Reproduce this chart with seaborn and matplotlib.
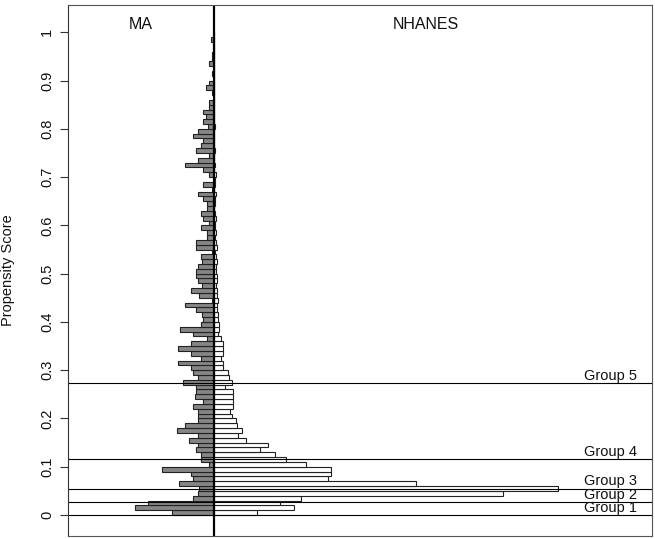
import numpy as np
import pandas as pd
import matplotlib
matplotlib.use("Agg")
import matplotlib.pyplot as plt
import seaborn as sns

# propensity-score bins (width 0.01, from 0 to 1)
bin_edges = [round(i * 0.01, 2) for i in range(101)]

# bar lengths (counts) per bin, bottom to top
ma_counts = [42, 79, 66, 21, 16, 15, 35, 21, 23, 52,
             5, 13, 13, 18, 16, 25, 16, 37, 29, 16,
             16, 16, 21, 11, 19, 18, 18, 31, 16, 21,
             23, 36, 13, 23, 36, 23, 7, 21, 34, 13,
             11, 12, 18, 29, 2, 15, 23, 12, 16, 18,
             18, 16, 12, 13, 2, 18, 18, 7, 7, 13,
             5, 11, 13, 7, 7, 11, 16, 2, 11, 0,
             5, 11, 29, 16, 5, 18, 13, 11, 21, 16,
             6, 11, 8, 11, 5, 5, 0, 2, 8, 5,
             0, 2, 0, 5, 2, 2, 0, 0, 3, 0]

nhanes_counts = [43, 80, 66, 87, 289, 344, 202, 114, 117, 117,
                 92, 72, 61, 46, 54, 32, 24, 28, 23, 22,
                 18, 16, 19, 19, 19, 19, 11, 18, 15, 14,
                 9, 9, 7, 9, 9, 9, 7, 4, 5, 5,
                 4, 4, 3, 3, 4, 3, 3, 2, 3, 3,
                 2, 2, 3, 2, 1, 3, 2, 1, 2, 1,
                 1, 2, 1, 0, 1, 1, 2, 0, 1, 1,
                 2, 0, 1, 0, 0, 1, 0, 0, 0, 0,
                 1, 0, 0, 0, 0, 0, 0, 0, 0, 0,
                 0, 0, 0, 0, 0, 0, 0, 0, 0, 0]

group_bounds = [0.0, 0.0263, 0.0539, 0.1155, 0.2731]
group_labels = ["Group 1", "Group 2", "Group 3", "Group 4", "Group 5"]
side_labels = ["MA", "NHANES"]
y_ticks = [0, 0.1, 0.2, 0.3, 0.4, 0.5, 0.6, 0.7, 0.8, 0.9, 1]
y_tick_labels = ["0", "0.1", "0.2", "0.3", "0.4", "0.5", "0.6", "0.7", "0.8", "0.9", "1"]

centers = [(bin_edges[i] + bin_edges[i + 1]) / 2 for i in range(100)]
df = pd.DataFrame({"score": centers,
                   "ma": [-c for c in ma_counts],
                   "nhanes": nhanes_counts})

sns.set_style("white")
plt.rcParams["font.family"] = ["Liberation Sans", "DejaVu Sans"]

fig = plt.figure(figsize=(6.55, 5.39), dpi=100)
ax = fig.add_axes([68 / 655, 3 / 539, 584 / 655, 531 / 539])

sns.histplot(data=df, y="score", weights="ma", bins=bin_edges, ax=ax,
             color="#858585", edgecolor="#222222", linewidth=0.8, alpha=1)
sns.histplot(data=df, y="score", weights="nhanes", bins=bin_edges, ax=ax,
             color="white", edgecolor="#222222", linewidth=0.8, alpha=1)

ax.set_xlim(-146, 438)
ax.set_ylim(-0.0435, 1.0565)
ax.axvline(0, color="black", lw=1.6)
for b, lab in zip(group_bounds, group_labels):
    ax.axhline(b, color="black", lw=0.8)
    ax.text(0.884, b + 0.001, lab, transform=ax.get_yaxis_transform(),
            ha="left", va="bottom", fontsize=10.5, color="#111111")

ax.text(-73, 1.016, side_labels[0], ha="center", va="center", fontsize=11.5, color="#111111")
ax.text(212, 1.016, side_labels[1], ha="center", va="center", fontsize=11.5, color="#111111")

ax.set_yticks(y_ticks)
ax.set_yticklabels(y_tick_labels, rotation=90, va="center", fontsize=10.5, color="#111111")
ax.tick_params(axis="y", direction="out", length=6, width=0.8, color="#333333", left=True, pad=4)
ax.set_xticks([])
ax.set_xlabel("")
ax.set_ylabel("Propensity Score", fontsize=10.5, labelpad=18, color="#111111")
for s in ["top", "right", "bottom"]:
    ax.spines[s].set_visible(True)
    ax.spines[s].set_color("#555555")
    ax.spines[s].set_linewidth(0.8)
ax.spines["left"].set_color("#333333")
ax.spines["left"].set_linewidth(0.8)

fig.savefig("out.png", dpi=100)
